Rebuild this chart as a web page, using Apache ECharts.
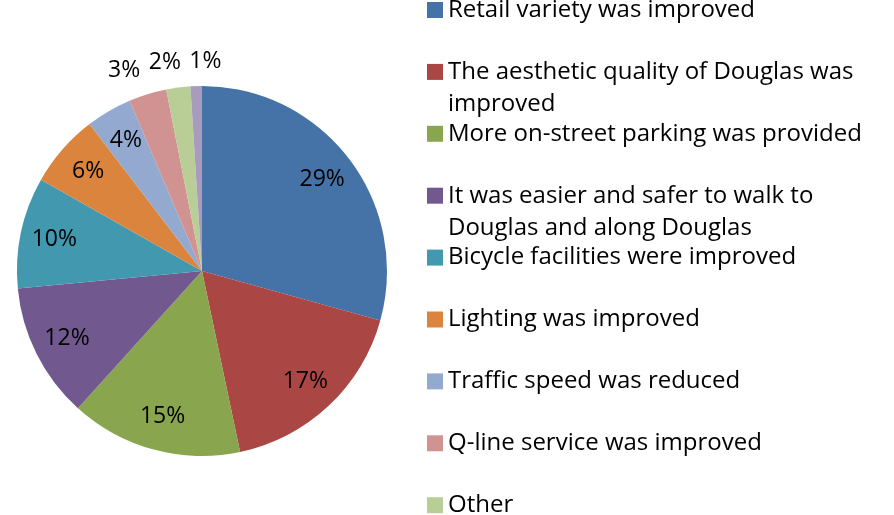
<!DOCTYPE html>
<html>
<head>
<meta charset="utf-8">
<script src="https://cdn.jsdelivr.net/npm/echarts@6/dist/echarts.min.js"></script>
<style>
  html, body { margin: 0; padding: 0; background: #fff; }
  #chart { width: 894px; height: 515px; }
</style>
</head>
<body>
<div id="chart"></div>
<script>
var categories = [
    'Retail variety was improved',
    'The aesthetic quality of Douglas was\nimproved',
    'More on-street parking was provided',
    'It was easier and safer to walk to\nDouglas and along Douglas',
    'Bicycle facilities were improved',
    'Lighting was improved',
    'Traffic speed was reduced',
    'Q-line service was improved',
    'Other',
    'No opinion'
];
var shares = [29.3, 17.4, 15.0, 11.8, 9.7, 6.4, 4.0, 3.3, 2.1, 1.0];
var colors = ['#4572A7', '#AA4643', '#89A54E', '#71588F', '#4198AF',
              '#DB843D', '#93A9CF', '#D19392', '#B9CD96', '#A99BBD'];

var font = 'Open Sans';
var chart = echarts.init(document.getElementById('chart'));

function pct(p) { return Math.round(p.value) + '%'; }

// outside labels of the thin slices are spread apart a little, as Excel does
var spread = { 7: 0, 8: -6, 9: -26 };

var mainData = categories.map(function (c, i) {
    var small = shares[i] < 3.5;
    return {
        name: c, value: shares[i], itemStyle: { color: colors[i] },
        label: small ? { show: true, distanceToLabelLine: spread[i] } : { show: false }
    };
});
// big slices labelled inside, on a transparent ring so the label sits at 0.8 R
var innerLabels = categories.map(function (c, i) {
    return { name: c, value: shares[i], label: { show: shares[i] >= 3.5 } };
});

var legends = categories.map(function (c, i) {
    var twoLines = c.indexOf('\n') >= 0;
    var mid = 10 + i * 61.9;
    return {
        data: [c],
        left: 427,
        top: twoLines ? mid - 48 : mid - 16,
        padding: 0,
        icon: 'rect',
        itemWidth: 16,
        itemHeight: 16,
        selectedMode: false,
        formatter: function (name) {
            // empty first line keeps the marker beside the first text line
            return name.indexOf('\n') >= 0 ? '\n' + name : name;
        },
        textStyle: { fontFamily: font, fontSize: 24, color: '#000', lineHeight: 32 }
    };
});

chart.setOption({
    animation: false,
    legend: legends,
    series: [
        {
            type: 'pie',
            center: [202, 271],
            radius: [0, 185],
            startAngle: 90,
            avoidLabelOverlap: false,
            labelLayout: { hideOverlap: false },
            label: {
                position: 'outside', color: '#000', fontFamily: font, fontSize: 23,
                formatter: pct
            },
            labelLine: { show: false, length: 25, length2: 0 },
            emphasis: { disabled: true },
            data: mainData
        },
        {
            type: 'pie',
            center: [202, 271],
            radius: [111, 185],
            startAngle: 90,
            silent: true,
            itemStyle: { color: 'transparent' },
            label: { position: 'inside', color: '#000', fontFamily: font, fontSize: 23, formatter: pct },
            labelLine: { show: false },
            emphasis: { disabled: true },
            data: innerLabels
        }
    ]
});
</script>
</body>
</html>
